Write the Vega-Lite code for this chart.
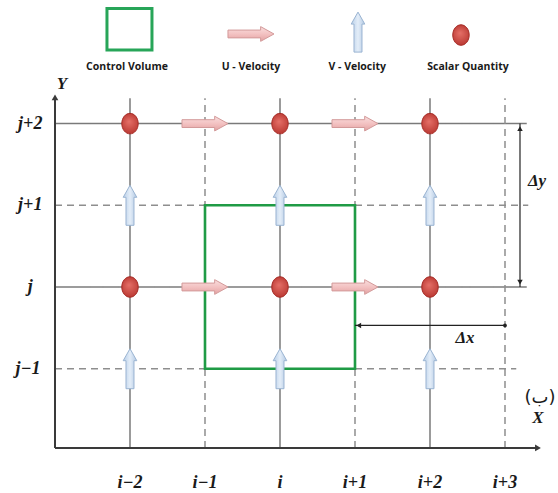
{
  "$schema": "https://vega.github.io/schema/vega-lite/v6.json",
  "width": 558,
  "height": 493,
  "padding": 0,
  "autosize": {"type": "none"},
  "background": "white",
  "config": {"view": {"stroke": null}},
  "datasets": {
    "gridlines": [
      {"x": -3, "x2": 3.29, "y": 2, "y2": 2, "kind": "main"},
      {"x": -3, "x2": 3.31, "y": 1, "y2": 1, "kind": "staggered"},
      {"x": -3, "x2": 3.29, "y": 0, "y2": 0, "kind": "main"},
      {"x": -3, "x2": 3.15, "y": -1, "y2": -1, "kind": "staggered"},
      {"x": -2, "x2": -2, "y": -1.97, "y2": 2.31, "kind": "main"},
      {"x": -1, "x2": -1, "y": -1.97, "y2": 2.31, "kind": "staggered"},
      {"x": 0, "x2": 0, "y": -1.97, "y2": 2.31, "kind": "main"},
      {"x": 1, "x2": 1, "y": -1.97, "y2": 2.31, "kind": "staggered"},
      {"x": 2, "x2": 2, "y": -1.97, "y2": 2.31, "kind": "main"},
      {"x": 3, "x2": 3, "y": -1.97, "y2": 2.31, "kind": "staggered"}
    ],
    "axes": [
      {"x": -3, "x2": 3.42, "y": -1.97, "y2": -1.97},
      {"x": -3, "x2": -3, "y": -1.97, "y2": 2.3}
    ],
    "axisHeadsRight": [{"x": 3.44, "y": -1.97}],
    "axisHeadsUp": [{"x": -3, "y": 2.32}],
    "dims": [
      {"x": 3.2, "x2": 3.2, "y": 2, "y2": 0},
      {"x": 1, "x2": 3, "y": -0.47, "y2": -0.47}
    ],
    "dimUp": [{"x": 3.2, "y": 1.94}],
    "dimDown": [{"x": 3.2, "y": 0.06}],
    "dimLeft": [{"x": 1.05, "y": -0.47}],
    "dimDot": [{"x": 3, "y": -0.47}],
    "controlVolume": [{"x": -1, "x2": 1, "y": -1, "y2": 1}],
    "legendBox": [{"x": -2.307, "x2": -1.707, "y": 2.90, "y2": 3.41}],
    "uVelocity": [
      {"x": -1, "y": 2}, {"x": 1, "y": 2}, {"x": -1, "y": 0}, {"x": 1, "y": 0},
      {"x": -0.387, "y": 3.097}
    ],
    "vVelocity": [
      {"x": -2, "y": 1}, {"x": 0, "y": 1}, {"x": 2, "y": 1},
      {"x": -2, "y": -1}, {"x": 0, "y": -1}, {"x": 2, "y": -1},
      {"x": 1.04, "y": 3.12}
    ],
    "scalar": [
      {"x": -2, "y": 2}, {"x": 0, "y": 2}, {"x": 2, "y": 2},
      {"x": -2, "y": 0}, {"x": 0, "y": 0}, {"x": 2, "y": 0},
      {"x": 2.413, "y": 3.084}
    ],
    "legendText": [
      {"x": -2.04, "y": 2.69, "label": "Control Volume"},
      {"x": -0.387, "y": 2.69, "label": "U - Velocity"},
      {"x": 1.03, "y": 2.69, "label": "V - Velocity"},
      {"x": 2.507, "y": 2.69, "label": "Scalar Quantity"}
    ],
    "xTicks": [
      {"x": -2, "y": -2.40, "label": "i−2"},
      {"x": -1, "y": -2.40, "label": "i−1"},
      {"x": 0, "y": -2.40, "label": "i"},
      {"x": 1, "y": -2.40, "label": "i+1"},
      {"x": 2, "y": -2.40, "label": "i+2"},
      {"x": 3, "y": -2.40, "label": "i+3"}
    ],
    "yTicks": [
      {"x": -3.33, "y": 2, "label": "j+2"},
      {"x": -3.33, "y": 1, "label": "j+1"},
      {"x": -3.33, "y": 0, "label": "j"},
      {"x": -3.36, "y": -1, "label": "j−1"}
    ],
    "axisNames": [
      {"x": -2.907, "y": 2.49, "label": "Y"},
      {"x": 3.44, "y": -1.60, "label": "X"},
      {"x": 3.427, "y": 1.297, "label": "Δy"},
      {"x": 2.467, "y": -0.624, "label": "Δx"}
    ],
    "caption": [{"x": 3.467, "y": -1.36, "label": "(ب)"}]
  },
  "encoding": {
    "x": {"field": "x", "type": "quantitative", "scale": {"domain": [-3.7333, 3.7067], "nice": false, "zero": false}, "axis": null},
    "y": {"field": "y", "type": "quantitative", "scale": {"domain": [-2.5214, 3.5129], "nice": false, "zero": false}, "axis": null}
  },
  "layer": [
    {
      "data": {"name": "gridlines"},
      "mark": {"type": "rule", "strokeWidth": 1.5},
      "encoding": {
        "x2": {"field": "x2"},
        "y2": {"field": "y2"},
        "strokeDash": {"field": "kind", "type": "nominal", "scale": {"domain": ["main", "staggered"], "range": [[1, 0], [7, 5]]}, "legend": null},
        "color": {"field": "kind", "type": "nominal", "scale": {"domain": ["main", "staggered"], "range": ["#7a7a7a", "#8e8e8e"]}, "legend": null}
      }
    },
    {
      "data": {"name": "controlVolume"},
      "mark": {"type": "rect", "filled": false, "stroke": "#1f9b45", "strokeWidth": 2.6},
      "encoding": {"x2": {"field": "x2"}, "y2": {"field": "y2"}}
    },
    {
      "data": {"name": "legendBox"},
      "mark": {"type": "rect", "filled": false, "stroke": "#27a558", "strokeWidth": 3},
      "encoding": {"x2": {"field": "x2"}, "y2": {"field": "y2"}}
    },
    {
      "data": {"name": "axes"},
      "mark": {"type": "rule", "strokeWidth": 2, "color": "#3a3a3a"},
      "encoding": {"x2": {"field": "x2"}, "y2": {"field": "y2"}}
    },
    {
      "data": {"name": "axisHeadsRight"},
      "mark": {"type": "point", "shape": "triangle-right", "size": 45, "filled": true, "color": "#3a3a3a", "opacity": 1}
    },
    {
      "data": {"name": "axisHeadsUp"},
      "mark": {"type": "point", "shape": "triangle-up", "size": 45, "filled": true, "color": "#3a3a3a", "opacity": 1}
    },
    {
      "data": {"name": "dims"},
      "mark": {"type": "rule", "strokeWidth": 1.2, "color": "#222222"},
      "encoding": {"x2": {"field": "x2"}, "y2": {"field": "y2"}}
    },
    {
      "data": {"name": "dimUp"},
      "mark": {"type": "point", "shape": "triangle-up", "size": 30, "filled": true, "color": "#222222", "opacity": 1}
    },
    {
      "data": {"name": "dimDown"},
      "mark": {"type": "point", "shape": "triangle-down", "size": 30, "filled": true, "color": "#222222", "opacity": 1}
    },
    {
      "data": {"name": "dimLeft"},
      "mark": {"type": "point", "shape": "triangle-left", "size": 30, "filled": true, "color": "#222222", "opacity": 1}
    },
    {
      "data": {"name": "dimDot"},
      "mark": {"type": "point", "shape": "circle", "size": 14, "filled": true, "color": "#222222", "opacity": 1}
    },
    {
      "data": {"name": "uVelocity"},
      "mark": {
        "type": "point",
        "shape": "M -1 -0.17 L 0.42 -0.17 L 0.42 -0.32 L 1 0 L 0.42 0.32 L 0.42 0.17 L -1 0.17 Z",
        "size": 2116,
        "filled": true,
        "opacity": 1,
        "fill": {"gradient": "linear", "x1": 0, "y1": 0, "x2": 0, "y2": 1, "stops": [{"offset": 0, "color": "#f9dede"}, {"offset": 0.5, "color": "#f3c2c2"}, {"offset": 1, "color": "#e3a2a2"}]},
        "stroke": "#d39a9a",
        "strokeWidth": 1
      }
    },
    {
      "data": {"name": "vVelocity"},
      "mark": {
        "type": "point",
        "shape": "M -0.2 1 L -0.2 -0.4 L -0.34 -0.4 L 0 -1 L 0.34 -0.4 L 0.2 -0.4 L 0.2 1 Z",
        "size": 1600,
        "filled": true,
        "opacity": 1,
        "fill": {"gradient": "linear", "x1": 0, "y1": 0, "x2": 1, "y2": 0, "stops": [{"offset": 0, "color": "#b9cfe8"}, {"offset": 0.5, "color": "#e3edf8"}, {"offset": 1, "color": "#b2c8e2"}]},
        "stroke": "#9ab4d2",
        "strokeWidth": 1
      }
    },
    {
      "data": {"name": "scalar"},
      "mark": {
        "type": "point",
        "shape": "M -0.8 0 A 0.8 1 0 1 1 0.8 0 A 0.8 1 0 1 1 -0.8 0 Z",
        "size": 420,
        "filled": true,
        "opacity": 1,
        "fill": {"gradient": "radial", "x1": 0.45, "y1": 0.4, "r1": 0, "x2": 0.5, "y2": 0.5, "r2": 0.6, "stops": [{"offset": 0, "color": "#e57068"}, {"offset": 1, "color": "#b3302a"}]},
        "stroke": "#a52a24",
        "strokeWidth": 1
      }
    },
    {
      "data": {"name": "legendText"},
      "mark": {"type": "text", "font": "Open Sans", "fontWeight": "bold", "fontSize": 10.5, "color": "#1a1a1a", "align": "center", "baseline": "middle"},
      "encoding": {"text": {"field": "label"}}
    },
    {
      "data": {"name": "xTicks"},
      "mark": {"type": "text", "font": "Liberation Serif", "fontStyle": "italic", "fontWeight": "bold", "fontSize": 18, "color": "#1a1a1a", "align": "center", "baseline": "middle"},
      "encoding": {"text": {"field": "label"}}
    },
    {
      "data": {"name": "yTicks"},
      "mark": {"type": "text", "font": "Liberation Serif", "fontStyle": "italic", "fontWeight": "bold", "fontSize": 18, "color": "#1a1a1a", "align": "center", "baseline": "middle"},
      "encoding": {"text": {"field": "label"}}
    },
    {
      "data": {"name": "axisNames"},
      "mark": {"type": "text", "font": "Liberation Serif", "fontStyle": "italic", "fontWeight": "bold", "fontSize": 17, "color": "#1a1a1a", "align": "center", "baseline": "middle"},
      "encoding": {"text": {"field": "label"}}
    },
    {
      "data": {"name": "caption"},
      "mark": {"type": "text", "font": "DejaVu Sans", "fontSize": 18, "color": "#1a1a1a", "align": "center", "baseline": "middle"},
      "encoding": {"text": {"field": "label"}}
    }
  ]
}
